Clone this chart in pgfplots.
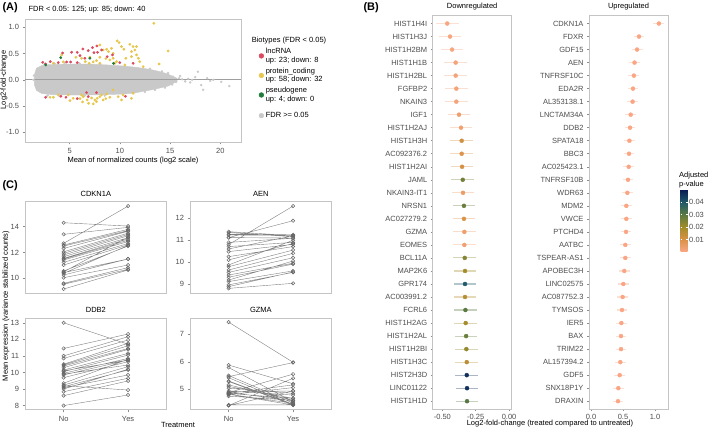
\documentclass[border=0pt]{standalone}
\usepackage{fontspec}
\setmainfont{Liberation Sans}
\usepackage{pgfplots}
\pgfplotsset{compat=1.18}
\usepgfplotslibrary{statistics}
\newcommand\fs{\fontsize{7.5}{8.6}\selectfont}
\definecolor{lnc}{HTML}{DC4A5F}
\definecolor{pc}{HTML}{E6C64C}
\definecolor{pg}{HTML}{1E7B3A}
\definecolor{ns}{HTML}{C9C9C9}
\definecolor{brd}{HTML}{C4C4C4}
\definecolor{tk}{HTML}{4D4D4D}
\definecolor{salm}{RGB}{250,166,132}
\pgfplotsset{
  colormap={pv}{rgb255=(250,168,134) rgb255=(218,146,72) rgb255=(162,140,42) rgb255=(92,122,64) rgb255=(32,90,106) rgb255=(11,29,85)},
  base/.style={scale only axis, anchor=north west,
    axis line style={draw=brd, line width=0.9pt},
    tick style={draw=black!45, line width=0.5pt}, tick align=outside, major tick length=2.5pt,
    tick label style={font=\fs, text=tk}, xtick pos=bottom, ytick pos=left,
    /pgf/number format/assume math mode=true,
    label style={font=\fs}, title style={font=\fs, yshift=-4pt}},
  cbox/.style={base, width=141.7pt, height=91.6pt, xmin=0.4, xmax=2.6, xtick={1,2}},
  pairs/.style={black!50, line width=0.4pt, mark=o, mark size=1.7pt, mark options={black!60, line width=0.5pt}, unbounded coords=jump},
  bx/.style={draw=black!45, line width=0.6pt, boxplot/every median/.style={line width=1.1pt, draw=black!65}},
}
\newcommand\dg[3]{\addplot[forget plot, only marks, mark=*, mark size=2pt, color of colormap={#3 of pv},
  error bars/.cd, x dir=both, x explicit, error mark=none, error bar style={line width=1.1pt, opacity=0.35}]
  coordinates {(#1,#2) +- (0.085,0)};}
\begin{document}
\begin{tikzpicture}
\path[use as bounding box] (0pt,0pt) rectangle (709pt,-430pt);
% ---------------- Panel A
\node[anchor=west, font=\bfseries\fontsize{11}{12}\selectfont] at (-1pt,-8pt) {(A)};
\node[anchor=west, font=\fs] at (25pt,-10pt) {FDR < 0.05: 125; up: 85; down: 40};
\node[rotate=90, font=\fs] at (4pt,-80pt) {Log2-fold-change};
\begin{axis}[base, at={(25pt,-19pt)}, width=216pt, height=123pt,
  xmin=0.56, xmax=22.06, ymin=-1.185, ymax=1.158,
  xtick={5,10,15,20}, ytick={-1,-0.5,0,0.5,1}, yticklabels={-1.0,-0.5,0.0,0.5,1.0},
  xlabel={Mean of normalized counts (log2 scale)},
  xlabel style={yshift=3pt},
  legend style={at={(1.04,0.886)}, anchor=north west, draw=none, fill=none, font=\fs,
    cells={anchor=west, align=left}, row sep=0pt},
  legend cell align=left]
\addplot[forget plot, fill=ns, draw=ns] coordinates {
(1.5,-0.1) (1.5,0.1) (1.7,0.22) (2.2,0.27) (3,0.29) (5,0.3) (7,0.3) (9,0.28) (10.5,0.26) (11.5,0.24) (12.3,0.22) (13.2,0.19) (13.9,0.16) (14.8,0.11) (15.3,0.06) (15.7,0.03)
(15.7,-0.03) (15.3,-0.07) (14.8,-0.12) (13.9,-0.16) (13.2,-0.19) (12.3,-0.22) (11.5,-0.25) (10.5,-0.27) (9,-0.28) (7,-0.29) (5,-0.29) (3,-0.28) (2.2,-0.26) (1.7,-0.2)} --cycle;
\addplot[forget plot, only marks, mark=*, mark size=1pt, ns] coordinates {
(15.3,0.06) (15.6,-0.04) (15.9,0.03) (16.2,0.01) (16.5,-0.03) (16.8,0.02) (17.2,0.0) (17.5,0.05) (17.77,0.154) (18.1,-0.1) (18.3,-0.19) (19.3,0.0) (20.1,-0.04) (20.9,-0.12) (17.0,-0.05) (16.0,0.07) (18.7,0.03) (19.0,-0.02) (15.2,-0.09) (14.8,0.13) (14.5,-0.15) (14.2,0.16) (13.5,-0.19) (13.0,0.21) (12.5,-0.23) (2.5,0.3) (3.5,0.31) (4.5,0.32) (6,0.31) (8,0.3) (2.8,-0.3) (4,-0.31) (6.5,-0.3) (8.5,-0.3) (1.4,0.0) (1.45,0.08)};
\addplot[forget plot, draw=black!38, line width=1.3pt] coordinates {(0.56,0) (22.06,0)};
\addplot[forget plot, only marks, mark=*, mark size=1.2pt, pc] coordinates {
(4.21,0.473) (4.37,0.34) (6.56,0.346) (7.02,0.429) (8.01,0.663) (8.34,0.568) (8.68,0.581) (8.87,0.537) (9.17,0.60) (9.34,0.505) (9.74,0.74) (9.93,0.708) (10.17,0.632) (10.40,0.581) (10.99,0.676) (11.32,0.632) (11.66,0.473) (11.85,0.41) (10.60,0.41) (9.67,0.346) (9.50,0.314) (9.01,0.378) (8.61,0.403) (8.01,0.429) (7.68,0.365) (7.35,0.34) (6.19,0.41) (5.63,0.429) (3.38,0.314) (11.99,0.346) (12.32,0.25) (13.38,1.076) (14.80,0.549) (13.91,0.302) (11.49,0.568) (11.16,0.441) (10.50,0.283) (6.95,0.314) (11.16,0.537) (11.66,0.632) (8.01,0.314) (9.34,0.41)
(3.05,-0.333) (3.38,-0.333) (5.03,-0.397) (6.03,-0.359) (6.29,-0.422) (6.75,-0.384) (6.89,-0.448) (7.19,-0.346) (7.52,-0.384) (7.75,-0.352) (8.01,-0.321) (8.34,-0.384) (8.61,-0.359) (9.01,-0.333) (8.68,-0.27) (9.34,-0.194) (9.83,-0.321) (6.36,-0.321) (5.36,-0.352) (7.35,-0.460) (7.68,-0.416) (10.33,-0.289) (10.17,-0.384) (11.32,-0.257) (11.16,-0.352) (3.87,-0.289) (4.87,-0.289) (6.19,-0.289) (8.18,-0.289)};
\addplot[forget plot, only marks, mark=*, mark size=1.2pt, lnc] coordinates {
(2.32,0.333) (2.62,0.302) (3.08,0.346) (4.30,0.511) (5.20,0.524) (5.76,0.524) (6.03,0.46) (4.70,0.34) (5.10,0.34) (5.76,0.327) (6.32,0.587) (6.85,0.556) (7.28,0.613) (7.72,0.644) (8.18,0.568) (7.42,0.517) (7.78,0.524) (9.27,0.473) (10.0,0.327) (11.32,0.314) (6.52,0.41) (8.74,0.44) (3.87,0.327)
(2.62,-0.333) (4.14,-0.314) (4.64,-0.333) (5.76,-0.359) (6.69,-0.244) (6.85,-0.321) (7.68,-0.244) (10.56,-0.314)};
\addplot[forget plot, only marks, mark=*, mark size=1.2pt, pg] coordinates {(2.62,0.283) (4.11,0.422) (7.02,0.41) (9.37,0.314)};
\addlegendimage{empty legend}\addlegendentry{\hspace{-14pt}Biotypes (FDR < 0.05)}
\addlegendimage{only marks, mark=*, mark size=2.4pt, lnc}\addlegendentry{lncRNA\\up: 23; down: 8}
\addlegendimage{only marks, mark=*, mark size=2.4pt, pc}\addlegendentry{protein\_coding\\up: 58; down: 32}
\addlegendimage{only marks, mark=*, mark size=2.4pt, pg}\addlegendentry{pseudogene\\up: 4; down: 0}
\addlegendimage{empty legend}\addlegendentry{}
\addlegendimage{only marks, mark=*, mark size=2.4pt, ns}\addlegendentry{FDR >= 0.05}
\end{axis}
% ---------------- Panel B
\node[anchor=west, font=\bfseries\fontsize{11}{12}\selectfont] at (360pt,-8pt) {(B)};
\begin{axis}[base, at={(432.7pt,-15.7pt)}, width=79pt, height=393.3pt,
  xmin=-0.572, xmax=0.0195, ymin=0.4, ymax=30.6, y dir=reverse,
  ytick={1,...,30}, major tick length=2pt,
  yticklabels={HIST1H4I,HIST1H3J,HIST1H2BM,HIST1H1B,HIST1H2BL,FGFBP2,NKAIN3,IGF1,HIST1H2AJ,HIST1H3H,AC092376.2,HIST1H2AI,JAML,NKAIN3-IT1,NRSN1,AC027279.2,GZMA,EOMES,BCL11A,MAP2K6,GPR174,AC003991.2,FCRL6,HIST1H2AG,HIST1H2AL,HIST1H2BI,HIST1H3C,HIST2H3D,LINC01122,HIST1H1D},
  xtick={-0.5,-0.25,0}, xticklabels={-0.50,-0.25,0.00}, title={Downregulated}]
\dg{-0.463}{1}{20}
\dg{-0.442}{2}{20}
\dg{-0.427}{3}{20}
\dg{-0.400}{4}{40}
\dg{-0.400}{5}{40}
\dg{-0.395}{6}{40}
\dg{-0.395}{7}{40}
\dg{-0.375}{8}{80}
\dg{-0.360}{9}{60}
\dg{-0.355}{10}{240}
\dg{-0.355}{11}{180}
\dg{-0.352}{12}{220}
\dg{-0.347}{13}{540}
\dg{-0.345}{14}{100}
\dg{-0.338}{15}{560}
\dg{-0.338}{16}{200}
\dg{-0.335}{17}{80}
\dg{-0.335}{18}{60}
\dg{-0.332}{19}{480}
\dg{-0.330}{20}{400}
\dg{-0.330}{21}{800}
\dg{-0.330}{22}{330}
\dg{-0.327}{23}{600}
\dg{-0.325}{24}{380}
\dg{-0.322}{25}{560}
\dg{-0.320}{26}{440}
\dg{-0.317}{27}{320}
\dg{-0.317}{28}{940}
\dg{-0.315}{29}{940}
\dg{-0.315}{30}{620}
\end{axis}
\begin{axis}[base, at={(589pt,-15.7pt)}, width=79pt, height=393.3pt,
  xmin=-0.031, xmax=1.203, ymin=0.4, ymax=30.6, y dir=reverse,
  ytick={1,...,30}, major tick length=2pt,
  yticklabels={CDKN1A,FDXR,GDF15,AEN,TNFRSF10C,EDA2R,AL353138.1,LNCTAM34A,DDB2,SPATA18,BBC3,AC025423.1,TNFRSF10B,WDR63,MDM2,VWCE,PTCHD4,AATBC,TSPEAR-AS1,APOBEC3H,LINC02575,AC087752.3,TYMSOS,IER5,BAX,TRIM22,AL157394.2,GDF5,SNX18P1Y,DRAXIN},
  xtick={0,0.5,1}, xticklabels={0.0,0.5,1.0}, title={Upregulated}]
\addplot[only marks, mark=*, mark size=2pt, salm, error bars/.cd, x dir=both, x explicit, error mark=none, error bar style={line width=1.1pt, opacity=0.35}] coordinates {
(1.06,1) +- (0.085,0) (0.75,2) +- (0.085,0) (0.72,3) +- (0.085,0) (0.68,4) +- (0.085,0) (0.67,5) +- (0.085,0)
(0.656,6) +- (0.085,0) (0.65,7) +- (0.085,0) (0.62,8) +- (0.085,0) (0.61,9) +- (0.085,0) (0.60,10) +- (0.085,0)
(0.594,11) +- (0.085,0) (0.589,12) +- (0.085,0) (0.578,13) +- (0.085,0) (0.568,14) +- (0.085,0) (0.552,15) +- (0.085,0)
(0.552,16) +- (0.085,0) (0.547,17) +- (0.085,0) (0.536,18) +- (0.085,0) (0.536,19) +- (0.085,0) (0.52,20) +- (0.085,0)
(0.505,21) +- (0.085,0) (0.495,22) +- (0.085,0) (0.484,23) +- (0.085,0) (0.474,24) +- (0.085,0) (0.469,25) +- (0.085,0)
(0.469,26) +- (0.085,0) (0.458,27) +- (0.085,0) (0.448,28) +- (0.085,0) (0.427,29) +- (0.085,0) (0.422,30) +- (0.085,0)};
\end{axis}
\node[anchor=center, font=\fs] at (550pt,-424pt) {Log2-fold-change (treated compared to untreated)};
% colorbar
\node[anchor=south west, font=\fs, align=left, inner sep=0pt] at (679pt,-188pt) {Adjusted\\p-value};
\begin{axis}[at={(679pt,-190pt)}, anchor=north west, scale only axis, width=7pt, height=62pt, hide axis,
  xmin=0, xmax=1, ymin=0, ymax=1, colormap name=pv, point meta min=0, point meta max=0.05,
  colorbar, colorbar style={at={(parent axis.north west)}, anchor=north west, xshift=-7pt, width=7pt, height=62pt,
    scaled y ticks=false,
    ytick={0.01,0.02,0.03,0.04}, yticklabels={0.01,0.02,0.03,0.04}, yticklabel pos=right, tick align=inside, major tick length=1.5pt,
    tick style={draw=white, line width=0.6pt}, axis line style={draw=none},
    yticklabel style={font=\fs, text=tk, inner sep=1.5pt}}]
\addplot[draw=none, mark=none] coordinates {(0,0) (1,1)};
\end{axis}
% ---------------- Panel C
\node[anchor=west, font=\bfseries\fontsize{11}{12}\selectfont] at (-1pt,-186pt) {(C)};
\begin{axis}[cbox, at={(25pt,-201.7pt)}, ymin=8.84, ymax=15.94, ytick={10,12,14}, xtick=\empty, title={CDKN1A}]
\addplot[bx, boxplot prepared={lower whisker=10.52, lower quartile=10.52, median=11.55, upper quartile=12.45, upper whisker=12.45, draw position=1, box extend=0.75}] coordinates {};
\addplot[bx, boxplot prepared={lower whisker=12.5, lower quartile=12.5, median=13.1, upper quartile=13.69, upper whisker=13.69, draw position=2, box extend=0.75}] coordinates {};
\addplot[pairs] coordinates {
(1,14.31) (2,14.05) (1.5,nan) (1,13.41) (2,13.95) (1.5,nan) (1,12.71) (2,15.60) (1.5,nan) (1,12.58) (2,13.80) (1.5,nan)
(1,12.50) (2,13.70) (1.5,nan) (1,12.32) (2,13.65) (1.5,nan) (1,12.06) (2,13.50) (1.5,nan) (1,11.94) (2,13.40) (1.5,nan)
(1,11.81) (2,13.30) (1.5,nan) (1,11.68) (2,13.15) (1.5,nan) (1,11.55) (2,13.05) (1.5,nan) (1,11.50) (2,12.95) (1.5,nan)
(1,11.42) (2,12.85) (1.5,nan) (1,11.24) (2,12.70) (1.5,nan) (1,11.03) (2,12.60) (1.5,nan) (1,10.57) (2,12.50) (1.5,nan)
(1,10.44) (2,11.50) (1.5,nan) (1,10.39) (2,12.55) (1.5,nan) (1,10.26) (2,11.50) (1.5,nan) (1,10.05) (2,11.03) (1.5,nan)
(1,9.61) (2,10.83) (1.5,nan) (1,9.54) (2,10.70) (1.5,nan) (1,9.17) (2,10.65) (1.5,nan) (1,10.50) (2,13.20)};
\end{axis}
\begin{axis}[cbox, at={(190pt,-201.7pt)}, ymin=8.575, ymax=12.76, ytick={9,10,11,12}, xtick=\empty, title={AEN}]
\addplot[bx, boxplot prepared={lower whisker=9.21, lower quartile=9.21, median=9.82, upper quartile=10.66, upper whisker=10.66, draw position=1, box extend=0.75}] coordinates {};
\addplot[bx, boxplot prepared={lower whisker=9.95, lower quartile=9.95, median=10.81, upper quartile=11.13, upper whisker=11.13, draw position=2, box extend=0.75}] coordinates {};
\addplot[pairs] coordinates {
(1,11.39) (2,11.21) (1.5,nan) (1,11.35) (2,11.16) (1.5,nan) (1,11.27) (2,11.25) (1.5,nan) (1,10.80) (2,12.56) (1.5,nan)
(1,11.12) (2,11.89) (1.5,nan) (1,10.90) (2,11.09) (1.5,nan) (1,10.71) (2,10.90) (1.5,nan) (1,10.60) (2,11.20) (1.5,nan)
(1,10.48) (2,10.81) (1.5,nan) (1,10.25) (2,10.71) (1.5,nan) (1,10.10) (2,10.85) (1.5,nan) (1,9.87) (2,11.00) (1.5,nan)
(1,9.79) (2,10.55) (1.5,nan) (1,9.64) (2,10.40) (1.5,nan) (1,9.53) (2,10.20) (1.5,nan) (1,9.41) (2,9.95) (1.5,nan)
(1,9.31) (2,9.91) (1.5,nan) (1,9.18) (2,10.05) (1.5,nan) (1,9.11) (2,9.60) (1.5,nan) (1,8.96) (2,9.53) (1.5,nan)
(1,8.88) (2,9.55) (1.5,nan) (1,8.80) (2,9.03) (1.5,nan) (1,11.24) (2,11.22) (1.5,nan) (1,11.12) (2,11.10)};
\end{axis}
\begin{axis}[cbox, at={(25pt,-318.3pt)}, ymin=7.74, ymax=13.27, ytick={8,...,13}, xticklabels={No,Yes}, title={DDB2}]
\addplot[bx, boxplot prepared={lower whisker=9.18, lower quartile=9.18, median=10.0, upper quartile=10.37, upper whisker=10.37, draw position=1, box extend=0.75}] coordinates {};
\addplot[bx, boxplot prepared={lower whisker=10.29, lower quartile=10.29, median=10.78, upper quartile=11.41, upper whisker=11.41, draw position=2, box extend=0.75}] coordinates {};
\addplot[pairs] coordinates {
(1,13.0) (2,11.7) (1.5,nan) (1,11.45) (2,12.32) (1.5,nan) (1,11.0) (2,12.16) (1.5,nan) (1,10.85) (2,11.96) (1.5,nan)
(1,10.5) (2,11.76) (1.5,nan) (1,10.45) (2,11.61) (1.5,nan) (1,10.39) (2,11.45) (1.5,nan) (1,10.29) (2,11.39) (1.5,nan)
(1,10.15) (2,11.15) (1.5,nan) (1,10.05) (2,11.05) (1.5,nan) (1,9.95) (2,10.85) (1.5,nan) (1,9.85) (2,10.75) (1.5,nan)
(1,9.69) (2,10.65) (1.5,nan) (1,9.35) (2,10.80) (1.5,nan) (1,9.24) (2,10.35) (1.5,nan) (1,9.14) (2,10.15) (1.5,nan)
(1,9.08) (2,9.85) (1.5,nan) (1,9.0) (2,10.2) (1.5,nan) (1,8.84) (2,9.65) (1.5,nan) (1,8.60) (2,9.49) (1.5,nan)
(1,8.0) (2,8.64) (1.5,nan) (1,9.2) (2,8.94) (1.5,nan) (1,10.1) (2,10.75) (1.5,nan) (1,9.9) (2,10.45)};
\end{axis}
\begin{axis}[cbox, at={(190pt,-318.3pt)}, ymin=4.25, ymax=7.58, ytick={5,6,7}, xticklabels={No,Yes}, title={GZMA}]
\addplot[bx, boxplot prepared={lower whisker=4.77, lower quartile=4.77, median=4.85, upper quartile=5.34, upper whisker=5.34, draw position=1, box extend=0.75}] coordinates {};
\addplot[bx, boxplot prepared={lower whisker=4.45, lower quartile=4.45, median=4.65, upper quartile=5.0, upper whisker=5.0, draw position=2, box extend=0.75}] coordinates {};
\addplot[pairs] coordinates {
(1,7.44) (2,5.98) (1.5,nan) (1,5.88) (2,5.20) (1.5,nan) (1,5.79) (2,4.55) (1.5,nan) (1,5.50) (2,4.50) (1.5,nan)
(1,5.46) (2,5.97) (1.5,nan) (1,5.42) (2,4.45) (1.5,nan) (1,5.28) (2,4.43) (1.5,nan) (1,5.16) (2,4.60) (1.5,nan)
(1,5.10) (2,4.67) (1.5,nan) (1,5.04) (2,4.85) (1.5,nan) (1,4.94) (2,4.79) (1.5,nan) (1,4.89) (2,4.58) (1.5,nan)
(1,4.85) (2,5.16) (1.5,nan) (1,4.82) (2,4.43) (1.5,nan) (1,4.85) (2,4.67) (1.5,nan) (1,4.80) (2,5.06) (1.5,nan)
(1,4.90) (2,4.94) (1.5,nan) (1,4.43) (2,4.43) (1.5,nan) (1,4.41) (2,4.94) (1.5,nan) (1,4.41) (2,5.40) (1.5,nan)
(1,4.82) (2,4.49) (1.5,nan) (1,5.30) (2,4.45) (1.5,nan) (1,4.75) (2,4.60) (1.5,nan) (1,4.88) (2,5.55)};
\end{axis}
\node[rotate=90, font=\fs] at (6pt,-306pt) {Mean expression (variance stabilized counts)};
\node[font=\fs] at (178pt,-425pt) {Treatment};
\end{tikzpicture}
\end{document}
